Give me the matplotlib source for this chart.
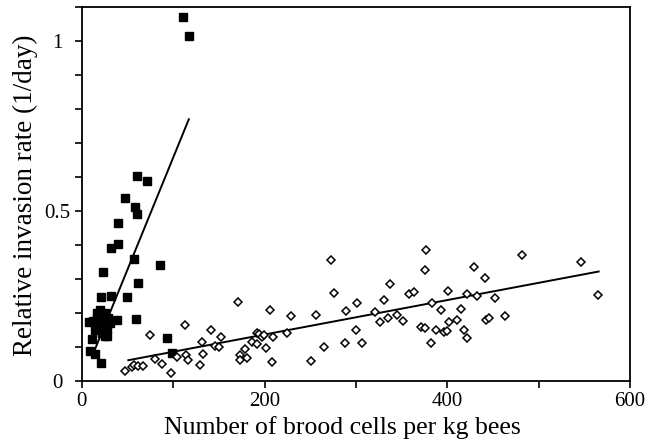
import matplotlib
matplotlib.use("Agg")
import matplotlib.pyplot as plt
import numpy as np
from matplotlib.ticker import MultipleLocator, FixedLocator

plt.rcParams['font.family'] = ['Liberation Serif', 'DejaVu Serif']

# Filled squares (steep series)
sq_x = [110.4, 117.0, 60.3, 71.3, 47.5, 58.1, 60.3, 39.8, 32.2, 39.5, 57.4, 85.5,
        23.4, 61.4, 21.2, 32.2, 49.0, 59.6, 38.7, 92.9, 98.3, 8.4, 10.6, 8.0,
        14.6, 20.5, 25.2,
        16.1, 19.7, 25.2, 28.8, 12.4, 17.9, 23.4, 27.1, 21.6, 27.8, 16.0, 23.4, 30.7,
        19.0, 26.0, 14.0]
sq_y = [1.070, 1.016, 0.604, 0.589, 0.538, 0.512, 0.491, 0.464, 0.391, 0.403, 0.358, 0.340,
        0.320, 0.289, 0.246, 0.251, 0.246, 0.183, 0.178, 0.126, 0.083, 0.088, 0.124, 0.173,
        0.078, 0.053, 0.132,
        0.200, 0.210, 0.200, 0.186, 0.176, 0.161, 0.171, 0.152, 0.142, 0.132, 0.186, 0.190, 0.171,
        0.195, 0.160, 0.150]

# Open diamonds (shallow series)
di_x = [47.5, 54.8, 57.0, 61.7, 66.9, 74.6, 80.4, 87.7, 97.6, 104.5, 113.3, 113.7,
        116.6, 129.4, 131.3, 133.0, 141.4, 145.1, 150.2, 152.7, 170.7, 173.2, 173.2, 180.2,
        178.4, 186.0, 191.5, 191.5, 193.3, 197.0, 198.8, 201.5, 206.1, 208.3, 209.0, 224.4,
        229.2, 250.7, 256.6, 265.1, 272.4, 276.3, 287.6, 288.8, 300.4, 301.5, 306.7, 321.0,
        325.7, 330.8, 335.5, 337.4, 344.3, 351.6, 357.5, 363.3, 370.6, 375.0, 376.8, 375.0,
        381.6, 383.4, 387.0, 393.3, 396.2, 399.9, 401.0, 401.7, 410.9, 414.9, 418.2, 420.9,
        421.8, 429.5, 432.0, 440.8, 442.3, 445.2, 452.5, 463.1, 481.4, 546.0, 565.0]
di_y = [0.029, 0.041, 0.046, 0.045, 0.043, 0.134, 0.064, 0.049, 0.023, 0.070, 0.165, 0.077,
        0.061, 0.047, 0.116, 0.080, 0.149, 0.103, 0.100, 0.130, 0.232, 0.076, 0.063, 0.067,
        0.095, 0.114, 0.142, 0.108, 0.139, 0.130, 0.134, 0.096, 0.208, 0.056, 0.130, 0.142,
        0.191, 0.058, 0.194, 0.101, 0.357, 0.259, 0.111, 0.205, 0.149, 0.230, 0.113, 0.204,
        0.173, 0.237, 0.186, 0.286, 0.195, 0.177, 0.256, 0.261, 0.160, 0.155, 0.384, 0.327,
        0.113, 0.228, 0.149, 0.208, 0.144, 0.147, 0.266, 0.173, 0.178, 0.213, 0.150, 0.125,
        0.256, 0.334, 0.251, 0.302, 0.179, 0.186, 0.245, 0.190, 0.371, 0.349, 0.252]

# Regression lines (endpoints)
sq_line_x = [13.5, 117.0]
sq_line_y = [0.088, 0.770]
di_line_x = [50.8, 565.5]
di_line_y = [0.061, 0.322]

x_ticks = [0, 200, 400, 600]
x_minor = [100, 300, 500]
y_ticks = [0, 0.5, 1]
y_ticklabels = ['0', '0.5', '1']

fig = plt.figure(figsize=(6.45, 4.44), dpi=100)
ax = fig.add_axes([0.127, 0.142, 0.850, 0.842])

ax.plot(sq_line_x, sq_line_y, color='black', lw=1.4)
ax.plot(di_line_x, di_line_y, color='black', lw=1.4)
ax.plot(sq_x, sq_y, 's', color='black', ms=5.5, ls='none')
ax.plot(di_x, di_y, 'D', mfc='white', mec='black', mew=1.1, ms=3.8, ls='none')

ax.set_xlim(0, 600)
ax.set_ylim(0, 1.10)
ax.xaxis.set_major_locator(FixedLocator(x_ticks))
ax.xaxis.set_minor_locator(FixedLocator(x_minor))
ax.yaxis.set_major_locator(FixedLocator(y_ticks))
ax.yaxis.set_minor_locator(MultipleLocator(0.1))
ax.set_yticklabels(y_ticklabels)
ax.tick_params(which='both', direction='out', length=5, width=1.2, labelsize=15)
ax.tick_params(axis='x', pad=3)
ax.tick_params(axis='y', pad=12.5)
for lbl in ax.get_yticklabels():
    lbl.set_horizontalalignment('center')
for s in ax.spines.values():
    s.set_linewidth(1.3)

ax.set_xlabel('Number of brood cells per kg bees', fontsize=18.5)
ax.xaxis.set_label_coords(0.475, -0.095)
ax.set_ylabel('Relative invasion rate (1/day)', fontsize=19.5)
ax.yaxis.set_label_coords(-0.08, 0.497)

fig.savefig('out.png', dpi=100)
